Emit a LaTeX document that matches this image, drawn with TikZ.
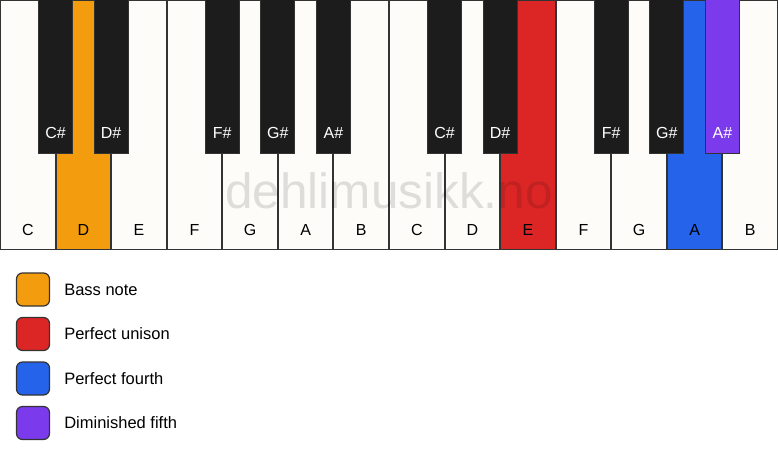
\documentclass[tikz,border=0pt]{standalone}
\usepackage{fontspec}
\setmainfont{Liberation Sans}
\definecolor{keywhite}{HTML}{FDFCF8}
\definecolor{keyblack}{HTML}{1C1C1C}
\definecolor{bassc}{HTML}{F39C0E}
\definecolor{unisonc}{HTML}{DC2626}
\definecolor{fourthc}{HTML}{2563EB}
\definecolor{dimc}{HTML}{7C3AED}
\definecolor{edge}{HTML}{333333}
\tikzset{
  whitekey/.style={draw=edge, line width=1pt, fill=keywhite},
  blackkey/.style={draw=edge, line width=0.9pt, fill=keyblack},
  wlabel/.style={font=\fontsize{16}{16}\selectfont, text=black},
  blabel/.style={font=\fontsize{16}{16}\selectfont, text=white},
  legbox/.style={draw=edge, line width=1.2pt, rounded corners=6pt, minimum width=33pt, minimum height=33pt, inner sep=0pt},
  legtext/.style={font=\fontsize{16.5}{16.5}\selectfont, anchor=west, inner sep=0pt},
}
\begin{document}
\begin{tikzpicture}[x=1pt,y=-1pt]
\useasboundingbox (0,0) rectangle (778,461);
\fill[white] (0,0) rectangle (778,461);
\def\W{55.571}
% white keys
\foreach \i/\n/\c in {0/C/keywhite,1/D/bassc,2/E/keywhite,3/F/keywhite,4/G/keywhite,5/A/keywhite,6/B/keywhite,7/C/keywhite,8/D/keywhite,9/E/unisonc,10/F/keywhite,11/G/keywhite,12/A/fourthc,13/B/keywhite}{
  \path[whitekey, fill=\c] ({\i*\W+0.5},0) rectangle ({(\i+1)*\W-0.5},249.5);
  \node[wlabel] (w\i) at ({(\i+0.5)*\W},230) {\n};
}
% black keys
\foreach \j/\n/\c in {1/C\#/keyblack,2/D\#/keyblack,4/F\#/keyblack,5/G\#/keyblack,6/A\#/keyblack,8/C\#/keyblack,9/D\#/keyblack,11/F\#/keyblack,12/G\#/keyblack,13/A\#/dimc}{
  \path[blackkey, fill=\c] ({\j*\W-17},-1) rectangle ({\j*\W+17},153);
  \node[blabel] (b\j) at ({\j*\W},133) {\n};
}
% watermark
\node[font=\fontsize{49.5}{49.5}\selectfont, text=black, text opacity=0.12] (wm) at (389,191) {dehlimusikk.no};
% legend
\node[legbox, fill=bassc] (l1) at (33,289.5) {};
\node[legtext] (t1) at ([xshift=14pt]l1.east) {Bass note};
\node[legbox, fill=unisonc] (l2) at (33,334) {};
\node[legtext] (t2) at ([xshift=14pt]l2.east) {Perfect unison};
\node[legbox, fill=fourthc] (l3) at (33,378.5) {};
\node[legtext] (t3) at ([xshift=14pt]l3.east) {Perfect fourth};
\node[legbox, fill=dimc] (l4) at (33,423) {};
\node[legtext] (t4) at ([xshift=14pt]l4.east) {Diminished fifth};
\end{tikzpicture}
\end{document}
